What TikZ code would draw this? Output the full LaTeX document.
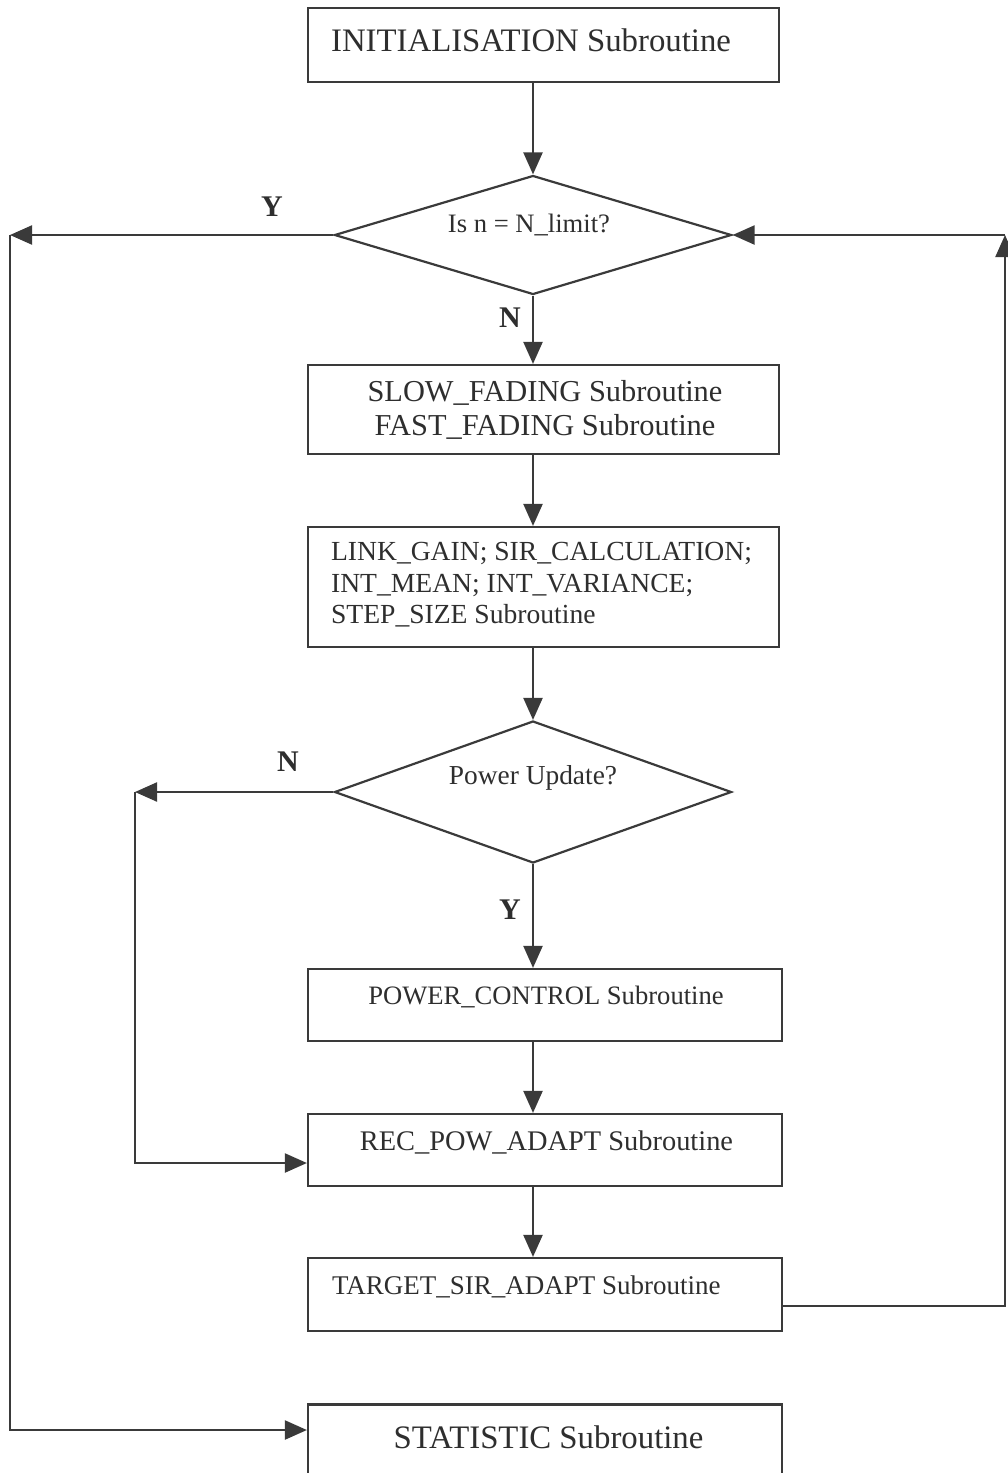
\documentclass[tikz,border=0pt]{standalone}
\usepackage{fontspec}
\setmainfont{Liberation Serif}
\usetikzlibrary{arrows.meta,shapes.geometric}
\definecolor{ink}{HTML}{3A3A3A}
\definecolor{txt}{HTML}{2E2E2E}
\begin{document}
\begin{tikzpicture}[x=0.5pt,y=-0.5pt,
  line width=1.1pt, draw=ink,
  box/.style={draw=ink, rectangle, inner sep=0pt, minimum width=235.5pt},
  wbox/.style={draw=ink, rectangle, inner sep=0pt, minimum width=237pt},
  decision/.style={draw=ink, diamond, inner sep=0pt, minimum width=198.5pt},
  lbl/.style={text=txt, inner sep=0pt},
  yn/.style={text=txt, inner sep=0pt, font=\fontsize{15}{18}\selectfont\bfseries},
  arr/.style={draw=ink, -{Triangle[length=11pt,width=9.5pt]}},
  link/.style={draw=ink}]
\useasboundingbox (0,0) rectangle (1007,1473);

% process boxes and decisions
\node[box, minimum height=37pt] (init) at (543.5,45) {};
\node[decision, minimum height=59.5pt] (d1) at (533,235) {};
\node[box, minimum height=44.5pt] (fade) at (543.5,409.5) {};
\node[box, minimum height=60pt] (gain) at (543.5,587) {};
\node[decision, minimum height=71pt] (d2) at (533,792) {};
\node[wbox, minimum height=36pt] (pc) at (545,1005) {};
\node[wbox, minimum height=36pt] (rp) at (545,1150) {};
\node[wbox, minimum height=36.5pt] (ts) at (545,1294.5) {};
\node[wbox, minimum height=43pt] (st) at (545,1447.5) {};

% texts
\node[lbl, anchor=west, font=\fontsize{16.4}{19}\selectfont] (initT) at (330,40) {INITIALISATION Subroutine};
\node[lbl, font=\fontsize{13.3}{16}\selectfont] (d1T) at (529,225) {Is n = N\_limit?};
\node[lbl, align=center, font=\fontsize{15.2}{17.3}\selectfont] (fadeT) at (545,410) {SLOW\_FADING Subroutine\\FAST\_FADING Subroutine};
\node[lbl, anchor=west, align=left, font=\fontsize{13.8}{15.8}\selectfont] (gainT) at (330,585) {LINK\_GAIN; SIR\_CALCULATION;\\INT\_MEAN; INT\_VARIANCE;\\STEP\_SIZE Subroutine};
\node[lbl, font=\fontsize{13.7}{16}\selectfont] (d2T) at (533,778) {Power Update?};
\node[lbl, font=\fontsize{13.3}{16}\selectfont] (pcT) at (546,997) {POWER\_CONTROL Subroutine};
\node[lbl, font=\fontsize{14.2}{16}\selectfont] (rpT) at (546.5,1142) {REC\_POW\_ADAPT Subroutine};
\node[lbl, anchor=west, font=\fontsize{13.5}{16}\selectfont] (tsT) at (331,1287) {TARGET\_SIR\_ADAPT Subroutine};
\node[lbl, font=\fontsize{16.4}{19}\selectfont] (stT) at (548.5,1437) {STATISTIC Subroutine};

% branch labels
\node[yn] (y1) at (272,207) {Y};
\node[yn] (n1) at (510,318) {N};
\node[yn] (n2) at (288,762) {N};
\node[yn] (y2) at (510,910) {Y};

% loop corners
\coordinate (lt) at (10,235);
\coordinate (lb) at (10,1430);
\coordinate (mt) at (135,792);
\coordinate (mb) at (135,1163);
\coordinate (rt) at (1005,235);
\coordinate (rb) at (1005,1306);

% main flow
\draw[arr] (init.south -| d1.north) -- (d1.north);
\draw[arr] (d1.south) -- (d1.south |- fade.north);
\draw[arr] (fade.south -| d1.south) -- (d1.south |- gain.north);
\draw[arr] (gain.south -| d2.north) -- (d2.north);
\draw[arr] (d2.south) -- (d2.south |- pc.north);
\draw[arr] (pc.south -| d2.south) -- (d2.south |- rp.north);
\draw[arr] (rp.south -| d2.south) -- (d2.south |- ts.north);

% exit loop to statistics
\draw[arr] (d1.west) -- (lt);
\draw[arr] (lt) -- (lb) -- (lb -| st.west);

% skipped power control
\draw[arr] (d2.west) -- (mt);
\draw[arr] (mt) -- (mb) -- (mb -| rp.west);

% return to the loop test
\draw[arr] (ts.east |- rb) -- (rb) -- (rt);
\draw[arr] (rt) -- (d1.east);
\end{tikzpicture}
\end{document}
